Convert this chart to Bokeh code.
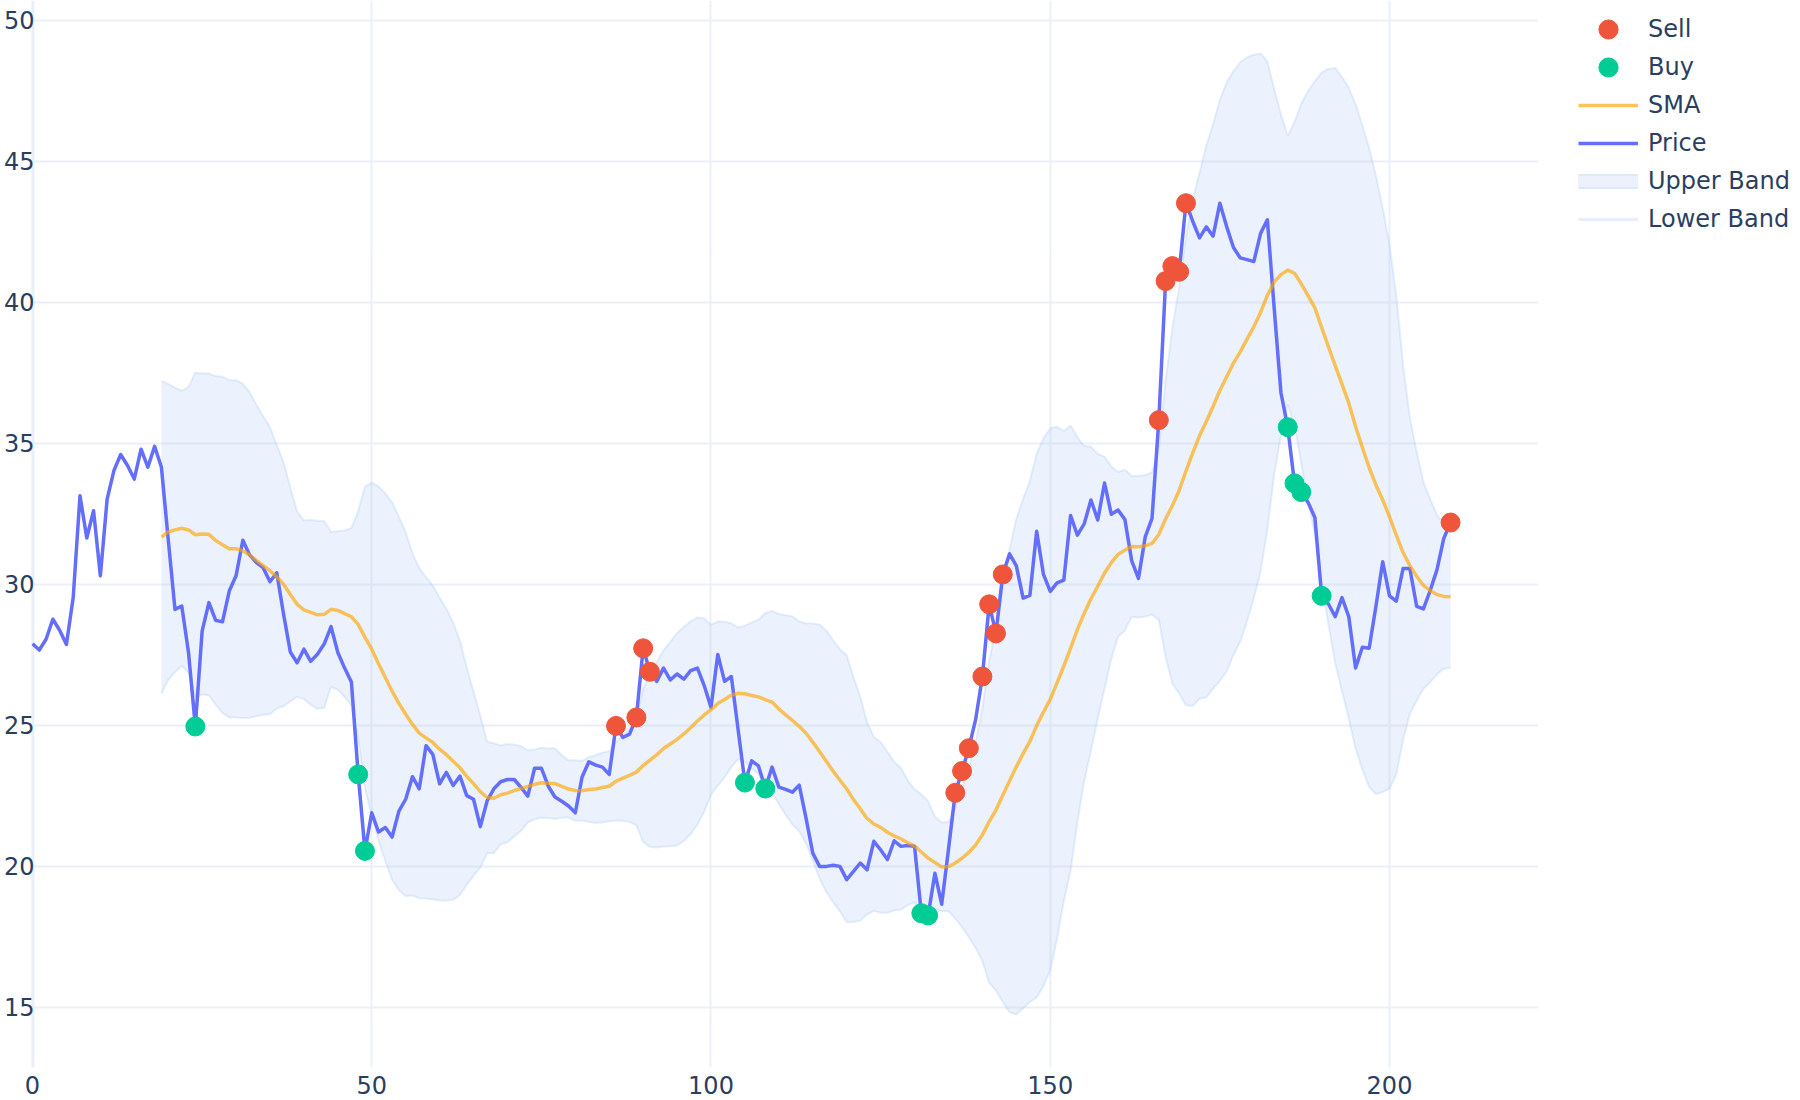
import numpy as np
import pandas as pd
from bokeh.plotting import figure
from bokeh.layouts import row
from bokeh.models import Range1d, Span, Legend, LegendItem, FixedTicker, ColumnDataSource
from bokeh.embed import file_html
from bokeh.resources import INLINE

# ---- data ----
price = [
    27.89, 27.67, 28.05, 28.76, 28.37, 27.87, 29.53, 33.14, 31.64, 32.61,
    30.30, 33.02, 34.03, 34.60, 34.21, 33.73, 34.79, 34.15, 34.89, 34.15,
    31.60, 29.11, 29.23, 27.57, 24.96, 28.34, 29.35, 28.72, 28.67, 29.76,
    30.30, 31.56, 31.04, 30.77, 30.59, 30.09, 30.41, 28.95, 27.60, 27.22,
    27.70, 27.27, 27.52, 27.89, 28.50, 27.58, 27.03, 26.54, 23.26, 20.55,
    21.90, 21.22, 21.38, 21.04, 21.96, 22.38, 23.18, 22.75, 24.28, 23.97,
    22.93, 23.33, 22.87, 23.20, 22.51, 22.38, 21.41, 22.32, 22.75, 23.00,
    23.08, 23.08, 22.80, 22.49, 23.48, 23.48, 22.85, 22.46, 22.31, 22.14,
    21.90, 23.17, 23.71, 23.59, 23.52, 23.26, 24.98, 24.57, 24.69, 25.28,
    27.73, 26.90, 26.56, 27.03, 26.61, 26.82, 26.64, 26.94, 27.03, 26.41,
    25.63, 27.51, 26.56, 26.73, 24.84, 22.97, 23.74, 23.56, 22.76, 23.52,
    22.81, 22.73, 22.63, 22.88, 21.72, 20.47, 20.00, 20.00, 20.04, 20.00,
    19.53, 19.82, 20.12, 19.88, 20.89, 20.59, 20.24, 20.91, 20.71, 20.74,
    20.71, 18.34, 18.26, 19.76, 18.66, 20.60, 22.61, 23.38, 24.19, 25.20,
    26.73, 29.29, 28.26, 30.35, 31.08, 30.65, 29.51, 29.61, 31.88, 30.35,
    29.75, 30.05, 30.15, 32.44, 31.74, 32.14, 32.99, 32.28, 33.59, 32.48,
    32.63, 32.30, 30.84, 30.21, 31.68, 32.34, 35.82, 40.75, 41.28, 41.08,
    43.51, 42.87, 42.28, 42.67, 42.34, 43.51, 42.68, 41.94, 41.57, 41.51,
    41.44, 42.44, 42.92, 39.80, 36.79, 35.57, 33.58, 33.27, 32.90, 32.37,
    29.59, 29.30, 28.85, 29.53, 28.85, 27.03, 27.77, 27.73, 29.22, 30.80,
    29.59, 29.40, 30.56, 30.56, 29.22, 29.13, 29.78, 30.52, 31.63, 32.19,
]
sell_idx = [86, 89, 90, 91, 136, 137, 138, 140, 141, 142, 143,
            166, 167, 168, 169, 170, 209]
buy_idx = [24, 48, 49, 105, 108, 131, 132, 185, 186, 187, 190]
window = 20
x_ticks = [0, 50, 100, 150, 200]
y_ticks = [15, 20, 25, 30, 35, 40, 45, 50]
legend_labels = ["Sell", "Buy", "SMA", "Price", "Upper Band", "Lower Band"]

# Bollinger statistics of the price series (as in the original chart)
s = pd.Series(price)
sma = s.rolling(window).mean()
std = s.rolling(window).std()
upper = sma + 2 * std
lower = sma - 2 * std
xs = np.arange(len(price))
valid = sma.notna().values

band_src = ColumnDataSource(dict(
    x=xs[valid], sma=sma.values[valid], upper=upper.values[valid], lower=lower.values[valid]))
price_src = ColumnDataSource(dict(x=xs, y=price))
sell_src = ColumnDataSource(dict(x=sell_idx, y=[price[i] for i in sell_idx]))
buy_src = ColumnDataSource(dict(x=buy_idx, y=[price[i] for i in buy_idx]))

FONT = "DejaVu Sans"
TXT = "#2a3f5f"
GRID = "#EBF0F8"
BAND = (155, 190, 245)
PRICE_C = "#636EFA"
SELL_C = "#EF553B"
BUY_C = "#00CC96"

p = figure(width=1538, height=1100, output_backend="svg", toolbar_location=None,
           x_range=Range1d(-0.147, 221.96), y_range=Range1d(12.871, 50.695),
           min_border_left=31, min_border_right=0, min_border_top=0, min_border_bottom=33)
p.outline_line_color = None
p.background_fill_color = "white"
p.border_fill_color = "white"

for ax in (p.xaxis, p.yaxis):
    ax.axis_line_color = None
    ax.major_tick_line_color = None
    ax.minor_tick_line_color = None
    ax.major_tick_out = 0
    ax.major_tick_in = 0
    ax.minor_tick_out = 0
    ax.minor_tick_in = 0
    ax.major_label_text_font = FONT
    ax.major_label_text_font_size = "24px"
    ax.major_label_text_color = TXT
p.xaxis.ticker = FixedTicker(ticks=x_ticks)
p.yaxis.ticker = FixedTicker(ticks=y_ticks)
p.yaxis.major_label_standoff = -3
p.xaxis.major_label_standoff = 8
p.grid.grid_line_color = GRID
p.grid.grid_line_width = 2

zero = Span(location=0, dimension="height", line_color=GRID, line_width=4, level="underlay")
p.add_layout(zero)

p.varea(x="x", y1="lower", y2="upper", source=band_src, fill_color=BAND, fill_alpha=0.2)
p.line("x", "upper", source=band_src, line_color=BAND, line_alpha=0.25, line_width=2)
p.line("x", "lower", source=band_src, line_color=BAND, line_alpha=0.25, line_width=2)
p.line("x", "y", source=price_src, line_color=PRICE_C, line_width=3.5, line_join="round")
p.line("x", "sma", source=band_src, line_color="orange", line_alpha=0.65,
       line_width=3.5, line_join="round")
p.scatter("x", "y", source=buy_src, size=19, fill_color=BUY_C, line_color=BUY_C)
p.scatter("x", "y", source=sell_src, size=19, fill_color=SELL_C, line_color=SELL_C)

# ---- legend panel (right of the plot area) ----
lp = figure(width=262, height=1100, output_backend="svg", toolbar_location=None,
            x_axis_type=None, y_axis_type=None, x_range=Range1d(0, 1), y_range=Range1d(0, 1),
            min_border=0)
lp.outline_line_color = None
lp.grid.visible = False
lp.background_fill_color = "white"
lp.border_fill_color = "white"

nan = [float("nan")]
g_sell = lp.scatter(nan, nan, size=19, fill_color=SELL_C, line_color=SELL_C)
g_buy = lp.scatter(nan, nan, size=19, fill_color=BUY_C, line_color=BUY_C)
g_sma = lp.line(nan, nan, line_color="orange", line_alpha=0.65, line_width=3.5)
g_price = lp.line(nan, nan, line_color=PRICE_C, line_width=3.5)
g_ub1 = lp.line(nan, nan, line_color="#DDE8FA", line_width=15)
g_ub2 = lp.line(nan, nan, line_color="#ECF2FD", line_width=11)
g_lb = lp.line(nan, nan, line_color="#E6EEFB", line_width=3)


def make_legend(items, loc, glyph_h):
    lg = Legend(items=items, location=loc)
    lg.glyph_width = 60
    lg.glyph_height = glyph_h
    lg.spacing = 0
    lg.padding = 0
    lg.margin = 0
    lg.label_standoff = 10
    lg.label_height = 20
    lg.label_text_font = FONT
    lg.label_text_font_size = "24px"
    lg.label_text_color = TXT
    lg.border_line_color = None
    lg.background_fill_alpha = 0
    lp.add_layout(lg)
    return lg


make_legend([LegendItem(label=legend_labels[0], renderers=[g_sell])], (40, 1014), 48)
make_legend([LegendItem(label=legend_labels[1], renderers=[g_buy])], (40, 976), 48)
make_legend([
    LegendItem(label=legend_labels[2], renderers=[g_sma]),
    LegendItem(label=legend_labels[3], renderers=[g_price]),
    LegendItem(label=legend_labels[4], renderers=[g_ub1, g_ub2]),
    LegendItem(label=legend_labels[5], renderers=[g_lb]),
], (40, 829), 38)

layout = row(p, lp, spacing=0)
open("out.html", "w").write(file_html(layout, INLINE))
